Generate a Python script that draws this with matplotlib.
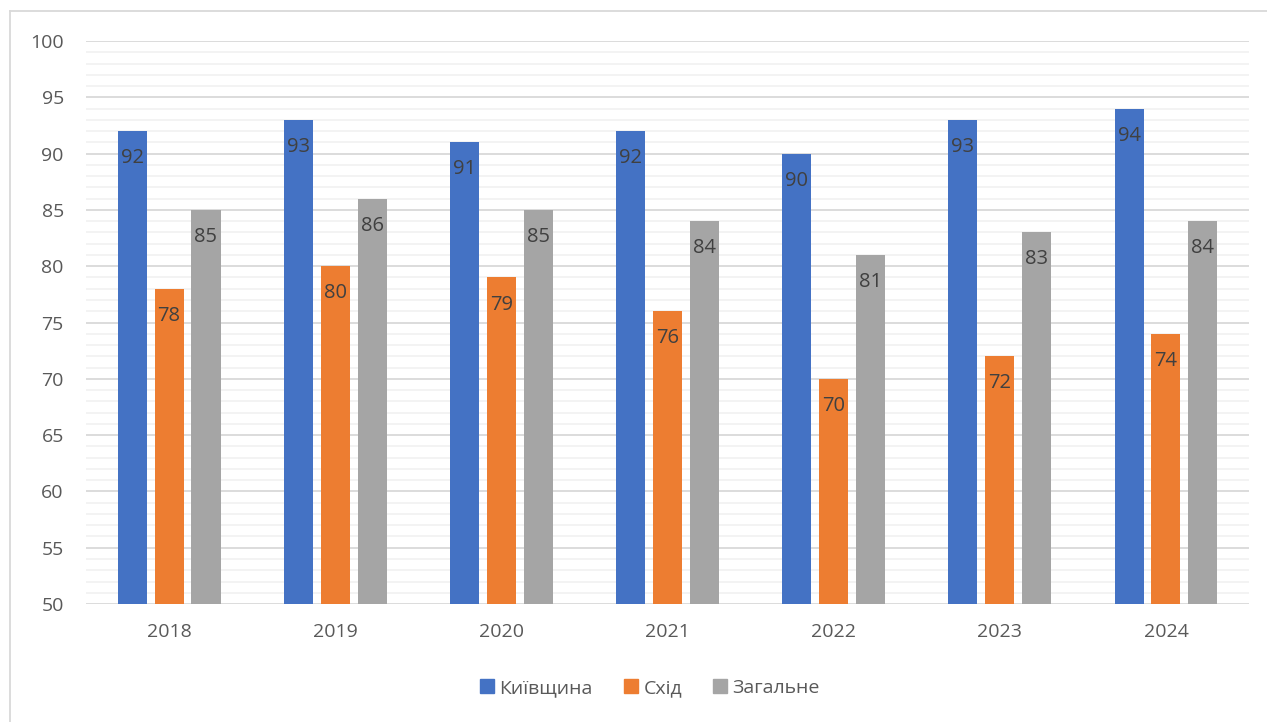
import numpy as np
import matplotlib.pyplot as plt
from matplotlib.lines import Line2D

years = ['2018', '2019', '2020', '2021', '2022', '2023', '2024']
kyiv = [92, 93, 91, 92, 90, 93, 94]
east = [78, 80, 79, 76, 70, 72, 74]
total = [85, 86, 85, 84, 81, 83, 84]
series = ['Київщина', 'Схід', 'Загальне']
colors = ['#4472C4', '#ED7D31', '#A5A5A5']

plt.rcParams['font.family'] = ['Open Sans', 'DejaVu Sans']

fig = plt.figure(figsize=(12.67, 7.22), dpi=100)
ax = fig.add_axes([0.0679, 0.1634, 0.9179, 0.7798])

x = np.arange(len(years))
w = 0.175
step = 0.222
for i, (vals, c) in enumerate(zip([kyiv, east, total], colors)):
    pos = x + (i - 1) * step
    ax.bar(pos, np.array(vals) - 50, w, bottom=50, color=c, label=series[i], zorder=3)
    for p, v in zip(pos, vals):
        ax.text(p, v - 2.4, str(v), ha='center', va='center', fontsize=14.5, color='#404040', zorder=4)

ax.set_ylim(50, 100)
ax.set_xlim(-0.5, len(years) - 0.5)
ax.set_yticks(np.arange(50, 101, 5))
ax.set_yticks(np.arange(50, 101, 1), minor=True)
ax.set_xticks(x)
ax.set_xticklabels(years)
ax.tick_params(axis='both', which='both', length=0, labelsize=14, colors='#595959')
ax.tick_params(axis='y', pad=16)
ax.tick_params(axis='x', pad=14)
ax.grid(axis='y', which='major', color='#D9D9D9', lw=1.3, zorder=0)
ax.grid(axis='y', which='minor', color='#F2F2F2', lw=1.3, zorder=0)
for s in ax.spines.values():
    s.set_visible(False)

# outer chart frame (left and top edges)
fig.add_artist(Line2D([10 / 1267, 10 / 1267], [0, 1 - 11 / 722], transform=fig.transFigure, color='#D9D9D9', lw=1.3))
fig.add_artist(Line2D([10 / 1267, 1], [1 - 11 / 722, 1 - 11 / 722], transform=fig.transFigure, color='#D9D9D9', lw=1.3))

handles = [plt.Rectangle((0, 0), 1, 1, color=c) for c in colors]
fig.legend(handles, series, loc='center', bbox_to_anchor=(0.513, 1 - 688 / 722), ncol=3, frameon=False,
           fontsize=14, handlelength=0.7, handleheight=0.7, handletextpad=0.3, columnspacing=1.6,
           labelcolor='#595959')

fig.savefig('out.png', dpi=100)
